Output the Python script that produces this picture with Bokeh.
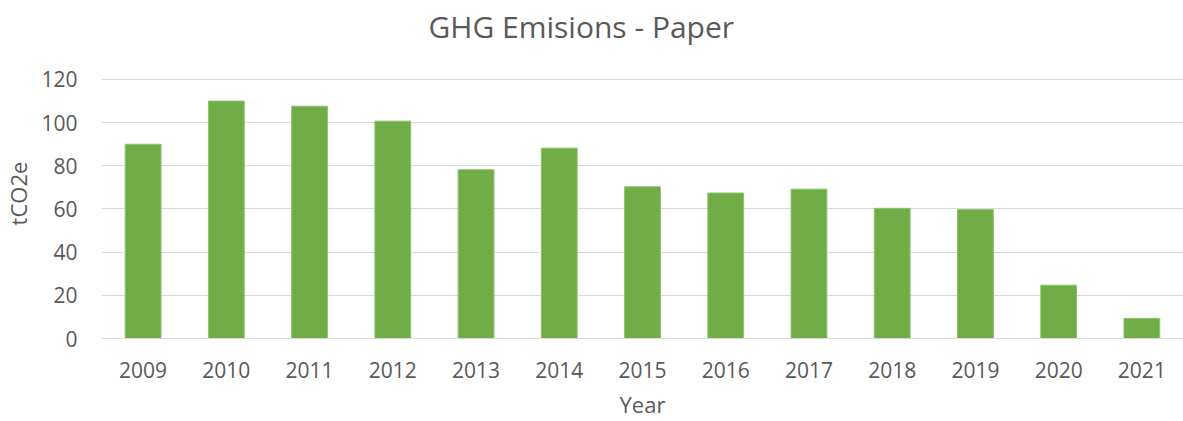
from bokeh.plotting import figure
from bokeh.models import Title, FactorRange, Range1d
from bokeh.embed import file_html
from bokeh.resources import INLINE

years = ["2009", "2010", "2011", "2012", "2013", "2014", "2015", "2016", "2017", "2018", "2019", "2020", "2021"]
emissions = [90, 110, 107.6, 100.7, 78.2, 88.2, 70.3, 67.4, 69.2, 60.3, 59.7, 24.7, 9.3]
y_ticks = [0, 20, 40, 60, 80, 100, 120]
title_text = "GHG Emisions - Paper"

FONT = "Open Sans"
GREY = "#595959"

# frame extends a little above the 120 gridline so the title can sit high
p = figure(x_range=FactorRange(*years, range_padding=0), y_range=Range1d(0, 134.36),
           width=1183, height=421, output_backend="svg", toolbar_location=None,
           min_border_left=101, min_border_right=0, min_border_top=48, min_border_bottom=80)
p.title = None
p.add_layout(Title(text=title_text, align="left", offset=327, standoff=4,
                   text_font=FONT, text_font_size="30px", text_color=GREY,
                   text_font_style="normal"), "above")

p.vbar(x=years, top=emissions, width=0.43, color="#70ad47", line_color="#8fc16a", line_width=1)

p.outline_line_color = None
p.background_fill_color = "white"
p.border_fill_color = "white"

p.ygrid.grid_line_color = "#d9d9d9"
p.ygrid.grid_line_width = 1
p.xgrid.grid_line_color = None
p.yaxis.ticker = y_ticks

for ax in (p.xaxis, p.yaxis):
    ax.major_tick_line_color = None
    ax.minor_tick_line_color = None
    ax.major_label_text_font = FONT
    ax.major_label_text_font_size = "21px"
    ax.major_label_text_color = GREY
    ax.axis_label_text_font = FONT
    ax.axis_label_text_font_size = "22px"
    ax.axis_label_text_color = GREY
    ax.axis_label_text_font_style = "normal"

p.yaxis.axis_line_color = None
p.xaxis.axis_line_color = "#d9d9d9"
p.yaxis.axis_label = "tCO2e"
p.xaxis.axis_label = "Year"
p.yaxis.major_label_standoff = 18
p.yaxis.axis_label_standoff = 5
p.xaxis.major_label_standoff = 17
p.xaxis.axis_label_standoff = 8

open("out.html", "w").write(file_html(p, INLINE))
